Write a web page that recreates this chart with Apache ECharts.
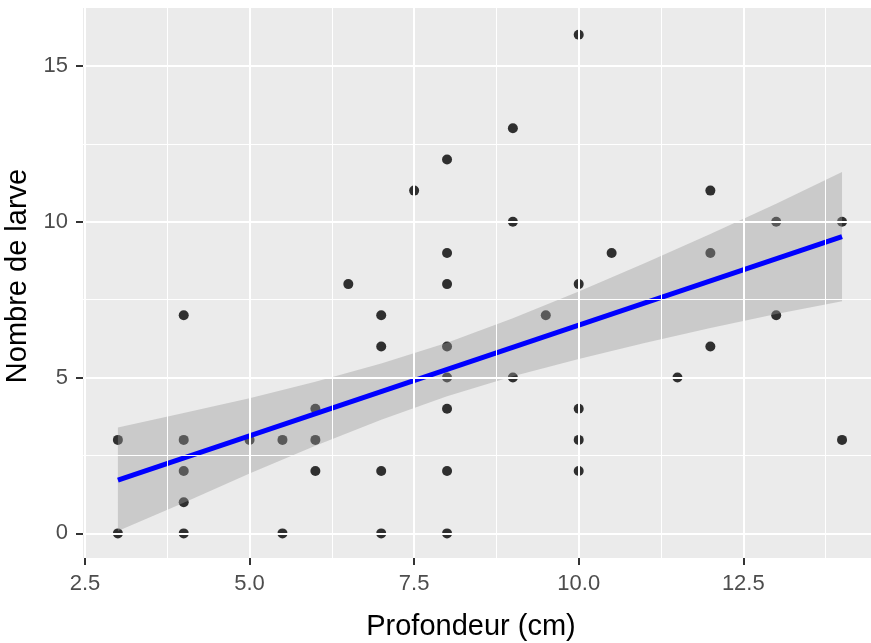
<!DOCTYPE html>
<html><head><meta charset="utf-8">
<script src="https://cdn.jsdelivr.net/npm/echarts@6/dist/echarts.min.js"></script>
<style>html,body{margin:0;padding:0;background:#fff}#c{width:871px;height:643px}</style>
</head><body><div id="c"></div>
<script>
const pointsX = [3,3, 4,4,4,4,4, 5, 5.5,5.5, 6,6,6, 6.5, 7,7,7,7, 7.5, 8,8,8,8,8,8,8,8, 9,9,9, 9.5, 10,10,10,10,10, 10.5, 11.5, 12,12,12, 13,13, 14,14];
const pointsY = [3,0, 7,3,2,1,0, 3, 3,0, 4,3,2, 8, 7,6,2,0, 11, 12,9,8,6,5,4,2,0, 13,10,5, 7, 16,8,4,3,2, 9, 5, 11,9,6, 10,7, 10,3];
const fitX = [3, 14];
const fitY = [1.71, 9.52];
const bandX  = [3, 4, 5, 6, 7, 8, 9, 10, 11, 12, 13, 14];
const bandLo = [0.08, 0.98, 1.92, 2.81, 3.65, 4.40, 5.04, 5.60, 6.11, 6.59, 7.04, 7.45];
const bandHi = [3.40, 3.86, 4.34, 4.87, 5.45, 6.12, 6.90, 7.76, 8.67, 9.61, 10.58, 11.60];
const xTicks = [2.5, 5, 7.5, 10, 12.5];
const xTickLabels = ['2.5', '5.0', '7.5', '10.0', '12.5'];
const xMinor = [3.75, 6.25, 8.75, 11.25, 13.75];
const yTicks = [0, 5, 10, 15];
const yTickLabels = ['0', '5', '10', '15'];
const yMinor = [2.5, 7.5, 12.5];

const FONT = 'Liberation Sans, Arial, sans-serif';
const chart = echarts.init(document.getElementById('c'));

const gridLines = []
  .concat(xMinor.map(v => ({xAxis: v, lineStyle: {color: '#ffffff', width: 1, type: 'solid'}})))
  .concat(yMinor.map(v => ({yAxis: v, lineStyle: {color: '#ffffff', width: 1, type: 'solid'}})))
  .concat(xTicks.map(v => ({xAxis: v, lineStyle: {color: '#ffffff', width: 2, type: 'solid'}})))
  .concat(yTicks.map(v => ({yAxis: v, lineStyle: {color: '#ffffff', width: 2, type: 'solid'}})));

chart.setOption({
  animation: false,
  grid: {left: 83, right: 0, top: 8, bottom: 85, show: true, backgroundColor: '#EBEBEB', borderWidth: 0,
    containLabel: false, outerBoundsMode: 'none'},
  xAxis: {
    type: 'value', min: 2.47, max: 14.44,
    splitLine: {show: false}, minorSplitLine: {show: false},
    axisLine: {show: false, onZero: false},
    axisTick: {show: true, length: 7, lineStyle: {color: '#333333', width: 2}, customValues: xTicks},
    axisLabel: {customValues: xTicks, color: '#4D4D4D', fontSize: 22, margin: 15, fontFamily: FONT,
      formatter: v => { const i = xTicks.indexOf(v); return i >= 0 ? xTickLabels[i] : ''; }},
    name: 'Profondeur (cm)', nameLocation: 'middle', nameGap: 54,
    nameTextStyle: {color: '#000000', fontSize: 29, fontFamily: FONT, padding: [0, 12, 0, 0]}
  },
  yAxis: {
    type: 'value', min: -0.79, max: 16.86,
    splitLine: {show: false}, minorSplitLine: {show: false},
    axisLine: {show: false, onZero: false},
    axisTick: {show: true, length: 7, lineStyle: {color: '#333333', width: 2}, customValues: yTicks},
    axisLabel: {customValues: yTicks, color: '#4D4D4D', fontSize: 22, margin: 15, fontFamily: FONT,
      formatter: v => { const i = yTicks.indexOf(v); return i >= 0 ? yTickLabels[i] : ''; }},
    name: 'Nombre de larve', nameLocation: 'middle', nameGap: 41, nameRotate: 90,
    nameTextStyle: {color: '#000000', fontSize: 29, fontFamily: FONT, padding: [0, 0, 0, 14]}
  },
  series: [
    {
      type: 'line', data: [], z: 1, silent: true,
      markLine: {silent: true, animation: false, symbol: ['none', 'none'], label: {show: false},
        emphasis: {disabled: true}, data: gridLines}
    },
    {
      type: 'scatter', z: 2, symbol: 'circle', symbolSize: 10, silent: true,
      itemStyle: {color: '#000000'},
      data: pointsX.map((x, i) => [x, pointsY[i]])
    },
    {
      type: 'custom', z: 3, silent: true,
      data: bandX.map((x, i) => [x, bandLo[i], bandHi[i]]),
      encode: {x: 0, y: [1, 2]},
      renderItem: function (params, api) {
        if (params.dataIndex !== 0) return null;
        const pts = [];
        for (let i = 0; i < bandX.length; i++) pts.push(api.coord([bandX[i], bandHi[i]]));
        for (let i = bandX.length - 1; i >= 0; i--) pts.push(api.coord([bandX[i], bandLo[i]]));
        return {type: 'polygon', shape: {points: pts}, style: {fill: 'rgba(153,153,153,0.4)', stroke: null}};
      }
    },
    {
      type: 'line', z: 4, silent: true, symbol: 'none',
      lineStyle: {color: '#0000FF', width: 5},
      data: fitX.map((x, i) => [x, fitY[i]])
    }
  ]
});
</script>
</body></html>
